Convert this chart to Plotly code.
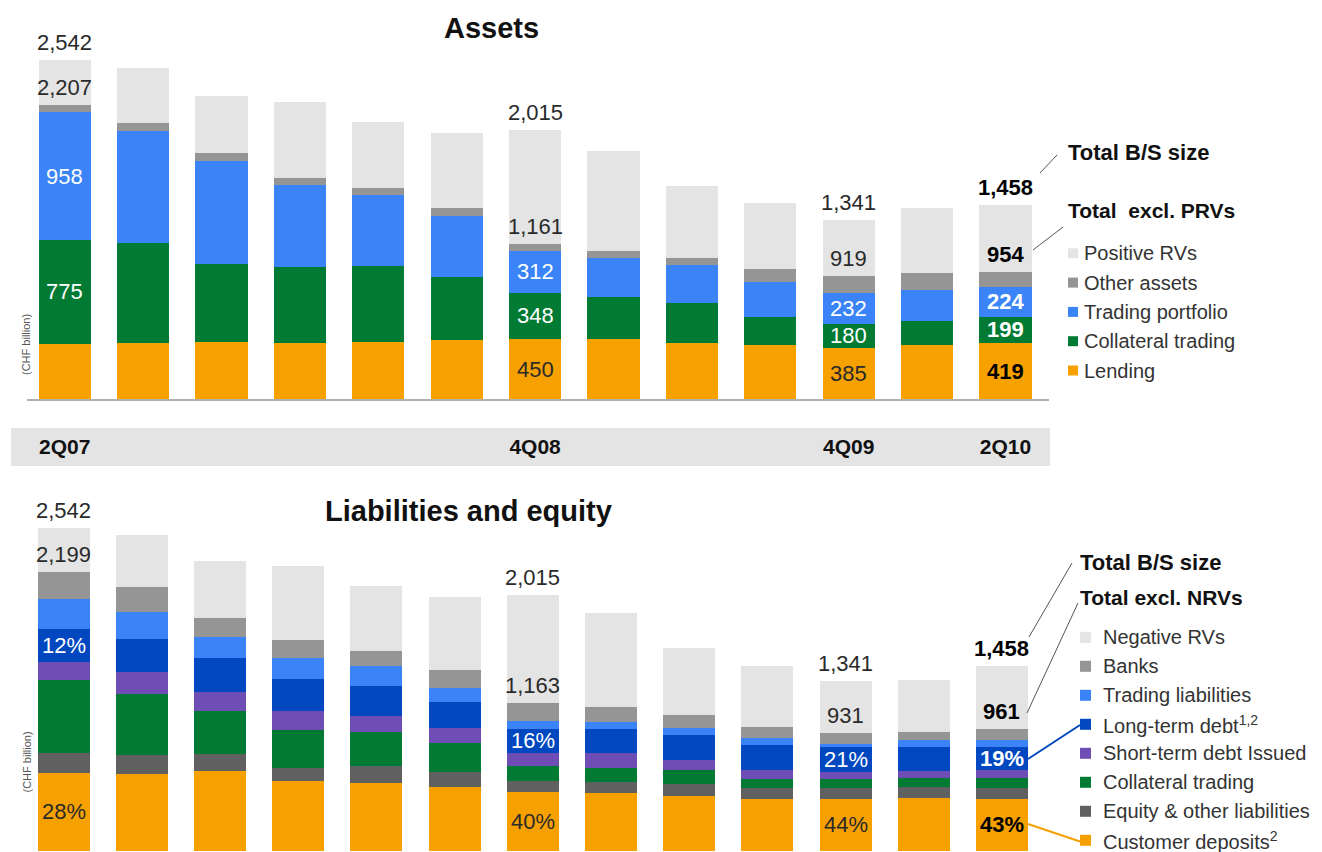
import plotly.graph_objects as go

W, H = 1322, 852
FONT = "Arial, 'Liberation Sans', Helvetica, sans-serif"

quarters = ["2Q07", "3Q07", "4Q07", "1Q08", "2Q08", "3Q08", "4Q08",
            "1Q09", "2Q09", "3Q09", "4Q09", "1Q10", "2Q10"]
tick_quarters = ["2Q07", "4Q08", "4Q09", "2Q10"]

# Assets, CHF billion (stacked bottom to top)
lending           = [416, 418, 430, 418, 430, 443, 450, 448, 418, 405, 385, 405, 419]
asset_collateral  = [775, 750, 580, 570, 570, 470, 348, 320, 300, 208, 180, 180, 199]
trading_portfolio = [958, 842, 777, 617, 530, 462, 312, 292, 287, 262, 232, 233, 224]
other_assets      = [58, 62, 60, 55, 55, 55, 51, 50, 55, 100, 122, 125, 112]
positive_rvs      = [335, 412, 428, 570, 495, 563, 854, 750, 538, 498, 422, 487, 504]

# Liabilities and equity, CHF billion (stacked bottom to top)
customer_deposits   = [616, 603, 627, 551, 537, 503, 465, 456, 432, 411, 410, 416, 413]
equity_other        = [155, 155, 134, 102, 132, 119, 86, 87, 92, 87, 85, 87, 86]
liab_collateral     = [575, 477, 343, 297, 269, 231, 115, 113, 110, 71, 74, 74, 78]
short_term_debt     = [139, 177, 144, 150, 122, 116, 108, 113, 79, 71, 53, 53, 58]
long_term_debt      = [264, 255, 269, 251, 241, 206, 186, 189, 198, 192, 196, 189, 183]
trading_liabilities = [238, 213, 171, 166, 155, 110, 60, 59, 58, 58, 27, 53, 52]
banks               = [212, 195, 145, 145, 119, 140, 143, 113, 100, 82, 86, 66, 91]
negative_rvs        = [343, 416, 448, 579, 508, 574, 852, 742, 527, 487, 410, 407, 497]

labelled = [0, 6, 10, 12]   # bars that carry value labels; the last one in bold

C_LIGHT = "#e4e4e4"
C_GREY = "#959595"
C_BLUE = "#3a84f7"
C_GREEN = "#017a34"
C_ORANGE = "#f6a100"
C_NAVY = "#0047c0"
C_PURPLE = "#6e4db4"
C_DARK = "#606060"

asset_series = [
    ("Lending", lending, C_ORANGE),
    ("Collateral trading", asset_collateral, C_GREEN),
    ("Trading portfolio", trading_portfolio, C_BLUE),
    ("Other assets", other_assets, C_GREY),
    ("Positive RVs", positive_rvs, C_LIGHT),
]
liab_series = [
    ("Customer deposits<sup>2</sup>", customer_deposits, C_ORANGE),
    ("Equity & other liabilities", equity_other, C_DARK),
    ("Collateral trading", liab_collateral, C_GREEN),
    ("Short-term debt Issued", short_term_debt, C_PURPLE),
    ("Long-term debt<sup>1,2</sup>", long_term_debt, C_NAVY),
    ("Trading liabilities", trading_liabilities, C_BLUE),
    ("Banks", banks, C_GREY),
    ("Negative RVs", negative_rvs, C_LIGHT),
]


def px(x):
    return x / W


def py(y):
    return 1 - y / H


fig = go.Figure()
for name, vals, col in asset_series:
    fig.add_trace(go.Bar(x=quarters, y=vals, name=name, marker=dict(color=col, line=dict(width=0)),
                         width=0.665, xaxis="x", yaxis="y", showlegend=False))
for name, vals, col in liab_series:
    fig.add_trace(go.Bar(x=quarters, y=vals, name=name, marker=dict(color=col, line=dict(width=0)),
                         width=0.665, xaxis="x2", yaxis="y2", showlegend=False))

ann = []
shapes = []


def label(text, x, y, xref, yref, size=22, color="#2a2a2a", bold=False,
          xanchor="center", yanchor="middle", yshift=0, xshift=0):
    if bold:
        text = "<b>" + text + "</b>"
    ann.append(dict(text=text, x=x, y=y, xref=xref, yref=yref, showarrow=False,
                    xanchor=xanchor, yanchor=yanchor, yshift=yshift, xshift=xshift,
                    font=dict(family=FONT, size=size, color=color)))


# ---- Assets value labels
for i in labelled:
    q = quarters[i]
    bold = i == labelled[-1]
    dark = "#000000" if bold else "#2a2a2a"
    excl = lending[i] + asset_collateral[i] + trading_portfolio[i] + other_assets[i]
    total = excl + positive_rvs[i]
    label(f"{total:,}", q, total, "x", "y", color=dark, bold=bold, yanchor="bottom", yshift=3)
    label(f"{excl:,}", q, excl, "x", "y", color=dark, bold=bold, yanchor="bottom", yshift=3)
    base = lending[i] + asset_collateral[i]
    label(f"{trading_portfolio[i]}", q, base + trading_portfolio[i] / 2, "x", "y",
          color="#ffffff", bold=bold)
    label(f"{asset_collateral[i]}", q, lending[i] + asset_collateral[i] / 2, "x", "y",
          color="#ffffff", bold=bold)
    if i != 0:
        label(f"{lending[i]}", q, lending[i] / 2, "x", "y", color=dark, bold=bold)

# ---- Liabilities value labels
for i in labelled:
    q = quarters[i]
    bold = i == labelled[-1]
    dark = "#000000" if bold else "#2a2a2a"
    excl = (customer_deposits[i] + equity_other[i] + liab_collateral[i] + short_term_debt[i]
            + long_term_debt[i] + trading_liabilities[i] + banks[i])
    total = excl + negative_rvs[i]
    label(f"{total:,}", q, total, "x2", "y2", color=dark, bold=bold, yanchor="bottom", yshift=3)
    label(f"{excl:,}", q, excl, "x2", "y2", color=dark, bold=bold, yanchor="bottom", yshift=3)
    below = customer_deposits[i] + equity_other[i] + liab_collateral[i] + short_term_debt[i]
    label(f"{round(100 * long_term_debt[i] / excl)}%", q, below + long_term_debt[i] / 2,
          "x2", "y2", color="#ffffff", bold=bold)
    label(f"{round(100 * customer_deposits[i] / excl)}%", q, customer_deposits[i] / 2,
          "x2", "y2", color=dark, bold=bold)

# ---- Titles
label("<b>Assets</b>", px(491), py(28), "paper", "paper", size=29, color="#111111")
label("<b>Liabilities and equity</b>", px(468), py(511), "paper", "paper", size=29, color="#111111")

# ---- Unit captions
for yc in (345, 795):
    ann.append(dict(text="(CHF billion)", x=px(18), y=py(yc), xref="paper", yref="paper",
                    showarrow=False, textangle=-90,
                    font=dict(family=FONT, size=11, color="#555555")))

# ---- Quarter band behind the axis labels
shapes.append(dict(type="rect", xref="paper", yref="paper", x0=px(11), x1=px(1050),
                   y0=py(466), y1=py(428), fillcolor=C_LIGHT, line=dict(width=0), layer="below"))

# ---- Callout headings and leader lines
label("<b>Total B/S size</b>", px(1066), py(152), "paper", "paper", size=22, color="#111111",
      xanchor="left")
label("<b>Total  excl. PRVs</b>", px(1066), py(210), "paper", "paper", size=21, color="#111111",
      xanchor="left")
label("<b>Total B/S size</b>", px(1078), py(562), "paper", "paper", size=22, color="#111111",
      xanchor="left")
label("<b>Total excl. NRVs</b>", px(1078), py(597), "paper", "paper", size=21, color="#111111",
      xanchor="left")


def seg(x0, y0, x1, y1, color="#555555", width=1):
    shapes.append(dict(type="line", xref="paper", yref="paper", x0=px(x0), y0=py(y0),
                       x1=px(x1), y1=py(y1), line=dict(color=color, width=width)))


seg(1040, 173, 1057, 155)
seg(1033, 250, 1063, 227)
seg(1029, 637, 1072, 563)
seg(1027, 713, 1078, 603)
seg(1028, 759, 1080, 725, color=C_NAVY, width=2)
seg(1028, 824, 1080, 841.5, color=C_ORANGE, width=2)

# ---- Legends (top entry first)
for k, (name, _, col) in enumerate(reversed(asset_series)):
    yc = 253.3 + k * 29.3
    shapes.append(dict(type="rect", xref="paper", yref="paper", x0=px(1068), x1=px(1078),
                       y0=py(yc + 5), y1=py(yc - 5), fillcolor=col, line=dict(width=0)))
    label(name, px(1082), py(yc), "paper", "paper", size=20, color="#333333", xanchor="left")

for k, (name, _, col) in enumerate(reversed(liab_series)):
    yc = 637.3 + k * 29.0
    shapes.append(dict(type="rect", xref="paper", yref="paper", x0=px(1080), x1=px(1091),
                       y0=py(yc + 5.5), y1=py(yc - 5.5), fillcolor=col, line=dict(width=0)))
    label(name, px(1101), py(yc), "paper", "paper", size=20, color="#333333", xanchor="left")

fig.update_layout(
    width=W, height=H,
    margin=dict(l=0, r=0, t=0, b=0),
    paper_bgcolor="#ffffff", plot_bgcolor="rgba(0,0,0,0)",
    barmode="stack",
    font=dict(family=FONT),
    xaxis=dict(domain=[px(27), px(1049)], range=[-0.481, 12.555], type="category",
               categoryorder="array", categoryarray=quarters, anchor="y",
               tickmode="array", tickvals=tick_quarters, ticktext=tick_quarters,
               ticklabelstandoff=28, ticks="",
               tickfont=dict(family=FONT, size=21, color="#111111", weight="bold"),
               showline=True, linecolor="#b0b0b0", linewidth=2,
               showgrid=False, zeroline=False, fixedrange=True),
    yaxis=dict(domain=[py(399), 1], range=[0, 2992.5], visible=False, anchor="x"),
    xaxis2=dict(domain=[px(27), px(1049)], range=[-0.467, 12.602], type="category",
                categoryorder="array", categoryarray=quarters, anchor="y2", visible=False),
    yaxis2=dict(domain=[0, py(480)], range=[-8, 2920], visible=False, anchor="x2"),
    annotations=ann,
    shapes=shapes,
)

fig.write_html("out.html")
